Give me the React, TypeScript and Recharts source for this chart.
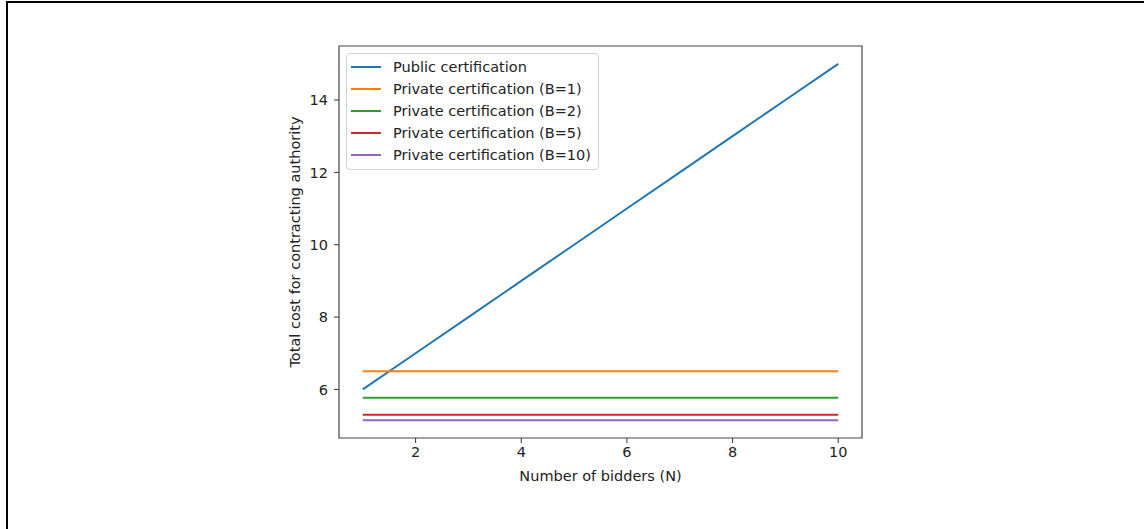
import React from 'react';
import {
  LineChart,
  Line,
  XAxis,
  YAxis,
  Legend,
  ReferenceArea,
} from 'recharts';

// values
const bidders = [1, 2, 3, 4, 5, 6, 7, 8, 9, 10];
const publicCert = [6, 7, 8, 9, 10, 11, 12, 13, 14, 15];
const privateB1 = [6.5, 6.5, 6.5, 6.5, 6.5, 6.5, 6.5, 6.5, 6.5, 6.5];
const privateB2 = [5.77, 5.77, 5.77, 5.77, 5.77, 5.77, 5.77, 5.77, 5.77, 5.77];
const privateB5 = [5.3, 5.3, 5.3, 5.3, 5.3, 5.3, 5.3, 5.3, 5.3, 5.3];
const privateB10 = [5.15, 5.15, 5.15, 5.15, 5.15, 5.15, 5.15, 5.15, 5.15, 5.15];

const xTicks = [2, 4, 6, 8, 10];
const yTicks = [6, 8, 10, 12, 14];
const xDomain: [number, number] = [0.55, 10.45];
const yDomain: [number, number] = [4.6575, 15.4925];

const series = [
  { key: 'pub', name: 'Public certification', color: '#1f77b4' },
  { key: 'b1', name: 'Private certification (B=1)', color: '#ff7f0e' },
  { key: 'b2', name: 'Private certification (B=2)', color: '#2ca02c' },
  { key: 'b5', name: 'Private certification (B=5)', color: '#d62728' },
  { key: 'b10', name: 'Private certification (B=10)', color: '#9467bd' },
];

const data = bidders.map((n, i) => ({
  n,
  pub: publicCert[i],
  b1: privateB1[i],
  b2: privateB2[i],
  b5: privateB5[i],
  b10: privateB10[i],
}));

const FONT = '"DejaVu Sans", sans-serif';
const FS = 14.5;
const tickStyle = { fontSize: FS, fill: '#222', fontFamily: FONT };

const LegendBox = () => (
  <div
    style={{
      border: '1px solid #d4d4d4',
      borderRadius: 4,
      background: 'rgba(255,255,255,0.8)',
      padding: '2px 7px 3px 4px',
      fontFamily: FONT,
      fontSize: FS,
      color: '#222',
    }}
  >
    {series.map((s) => (
      <div key={s.key} style={{ display: 'flex', alignItems: 'center', height: 22 }}>
        <span style={{ width: 30, height: 2, background: s.color, marginRight: 12 }} />
        <span style={{ whiteSpace: 'nowrap' }}>{s.name}</span>
      </div>
    ))}
  </div>
);

export default function App() {
  return (
    <div style={{ position: 'absolute', left: 0, top: 0, width: 1144, height: 529, background: '#fff' }}>
      {/* page frame */}
      <div style={{ position: 'absolute', left: 6, top: 1, width: 1138, height: 2, background: '#000' }} />
      <div style={{ position: 'absolute', left: 6, top: 1, width: 2, height: 528, background: '#000' }} />

      <LineChart
        width={1144}
        height={529}
        data={data}
        margin={{ top: 46, right: 282, bottom: 61, left: 279 }}
        style={{ position: 'absolute', left: 0, top: 0 }}
      >
        <XAxis
          dataKey="n"
          type="number"
          domain={xDomain}
          ticks={xTicks}
          allowDataOverflow
          height={30}
          tick={tickStyle}
          tickSize={5}
          tickMargin={4}
          axisLine={false}
          tickLine={{ stroke: '#333' }}
          label={{
            content: ({ viewBox }: any) => (
              <text
                x={viewBox.x + viewBox.width / 2}
                y={viewBox.y + viewBox.height + 13}
                textAnchor="middle"
                style={{ fontSize: FS, fill: '#222', fontFamily: FONT }}
              >
                Number of bidders (N)
              </text>
            ),
          }}
        />
        <YAxis
          type="number"
          domain={yDomain}
          ticks={yTicks}
          allowDataOverflow
          width={60}
          tick={tickStyle}
          tickSize={5}
          tickMargin={6}
          axisLine={false}
          tickLine={{ stroke: '#333' }}
          label={{
            content: ({ viewBox }: any) => {
              const cx = viewBox.x + 16;
              const cy = viewBox.y + viewBox.height / 2;
              return (
                <text
                  x={cx}
                  y={cy}
                  textAnchor="middle"
                  dominantBaseline="central"
                  transform={`rotate(-90 ${cx} ${cy})`}
                  style={{ fontSize: FS, fill: '#222', fontFamily: FONT }}
                >
                  Total cost for contracting authority
                </text>
              );
            },
          }}
        />
        <ReferenceArea
          x1={xDomain[0]}
          x2={xDomain[1]}
          y1={yDomain[0]}
          y2={yDomain[1]}
          fill="none"
          stroke="#444"
          strokeWidth={1.2}
          fillOpacity={0}
        />
        {series.map((s) => (
          <Line
            key={s.key}
            dataKey={s.key}
            name={s.name}
            stroke={s.color}
            strokeWidth={2}
            dot={false}
            activeDot={false}
            isAnimationActive={false}
          />
        ))}
        <Legend
          layout="vertical"
          align="center"
          verticalAlign="middle"
          content={() => <LegendBox />}
          wrapperStyle={{ left: 346, top: 53, width: 'auto' }}
        />
      </LineChart>
    </div>
  );
}
